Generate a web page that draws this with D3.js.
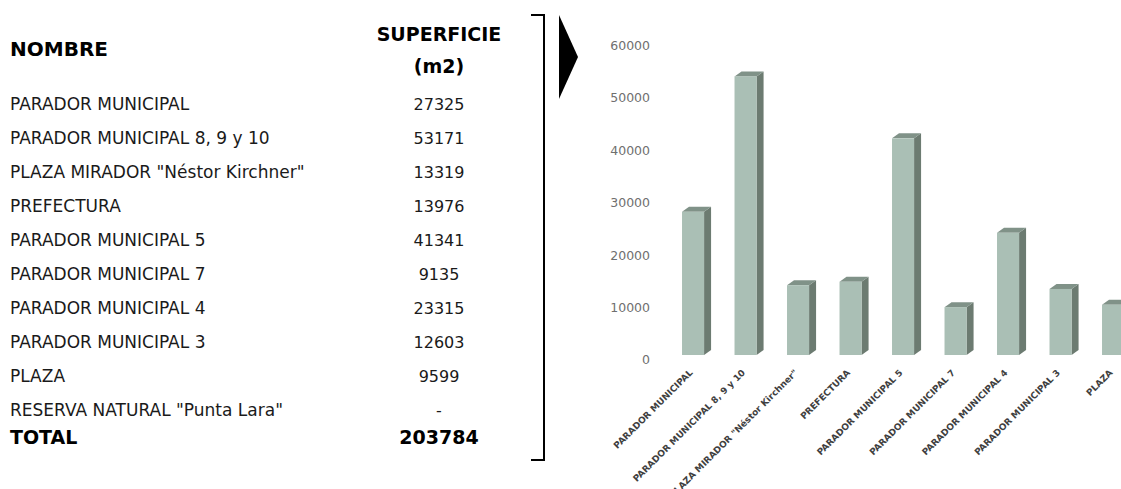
<!DOCTYPE html>
<html>
<head>
<meta charset="utf-8">
<script src="https://cdn.jsdelivr.net/npm/d3@7"></script>
<style>
  html, body { margin: 0; padding: 0; background: #fff; }
  svg { display: block; }
</style>
</head>
<body>
<svg id="chart" width="1121" height="489"></svg>
<script>
// ---- data ----
const tableNames = [
  "PARADOR MUNICIPAL",
  "PARADOR MUNICIPAL 8, 9 y 10",
  "PLAZA MIRADOR \"Néstor Kirchner\"",
  "PREFECTURA",
  "PARADOR MUNICIPAL 5",
  "PARADOR MUNICIPAL 7",
  "PARADOR MUNICIPAL 4",
  "PARADOR MUNICIPAL 3",
  "PLAZA",
  "RESERVA NATURAL \"Punta Lara\""
];
const tableValues = [27325, 53171, 13319, 13976, 41341, 9135, 23315, 12603, 9599, null];
const headerName = "NOMBRE";
const headerArea = ["SUPERFICIE", "(m2)"];
const totalLabel = "TOTAL";

const categories = [
  "PARADOR MUNICIPAL",
  "PARADOR MUNICIPAL 8, 9 y 10",
  "PLAZA MIRADOR \"Néstor Kirchner\"",
  "PREFECTURA",
  "PARADOR MUNICIPAL 5",
  "PARADOR MUNICIPAL 7",
  "PARADOR MUNICIPAL 4",
  "PARADOR MUNICIPAL 3",
  "PLAZA"
];
const areas = [27325, 53171, 13319, 13976, 41341, 9135, 23315, 12603, 9599];
const yTicks = [0, 10000, 20000, 30000, 40000, 50000, 60000];

// ---- drawing ----
const svg = d3.select("#chart");
const FONT = "'DejaVu Sans', sans-serif";

// Table
const tbl = svg.append("g").attr("font-family", FONT);
const valueX = 439;
tbl.append("text").attr("x", 10).attr("y", 56)
  .attr("font-size", 20).attr("font-weight", "bold").attr("fill", "#000")
  .text(headerName);
tbl.selectAll("text.hdr").data(headerArea).join("text")
  .attr("class", "hdr")
  .attr("x", valueX).attr("y", (d, i) => 41 + i * 32)
  .attr("text-anchor", "middle")
  .attr("font-size", 19).attr("font-weight", "bold").attr("fill", "#000")
  .text(d => d);

const rowY = d3.scaleLinear().domain([0, 1]).range([110, 144]);
tbl.selectAll("text.nm").data(tableNames).join("text")
  .attr("class", "nm")
  .attr("x", 10).attr("y", (d, i) => rowY(i))
  .attr("font-size", 17).attr("fill", "#1a1a1a")
  .text(d => d);
tbl.selectAll("text.val").data(tableValues).join("text")
  .attr("class", "val")
  .attr("x", valueX).attr("y", (d, i) => rowY(i))
  .attr("text-anchor", "middle")
  .attr("font-size", 16).attr("fill", "#1a1a1a")
  .text(d => d == null ? "-" : d);

tbl.append("text").attr("x", 10).attr("y", 444)
  .attr("font-size", 19).attr("font-weight", "bold").attr("fill", "#000")
  .text(totalLabel);
tbl.append("text").attr("x", valueX).attr("y", 444)
  .attr("text-anchor", "middle")
  .attr("font-size", 19).attr("font-weight", "bold").attr("fill", "#000")
  .text(d3.sum(tableValues.filter(v => v != null)));

// Bracket and arrow
svg.append("path")
  .attr("d", "M531,15H544V460H531")
  .attr("fill", "none").attr("stroke", "#000").attr("stroke-width", 2);
svg.append("path")
  .attr("d", "M559,15L578,57L559,99Z")
  .attr("fill", "#000");

// Bar chart
const y = d3.scaleLinear().domain([0, 60000]).range([355, 40.6]);
const x = d3.scaleBand().domain(categories).range([666.8, 1139.3])
  .paddingInner(0.58).paddingOuter(0.29);
const dx = 7, dy = 5;

const yAxis = svg.append("g").attr("font-family", FONT);
yAxis.selectAll("text").data(yTicks).join("text")
  .attr("x", 650).attr("y", d => y(d) + dy)
  .attr("dy", "0.35em")
  .attr("text-anchor", "end")
  .attr("font-size", 12.5).attr("fill", "#6f6f6f")
  .text(d => d);

const bars = svg.append("g").selectAll("g").data(categories).join("g");
bars.append("polygon")
  .attr("points", (d, i) => {
    const x0 = x(d), w = x.bandwidth(), yt = y(areas[i]), yb = y(0);
    return [[x0 + w, yt], [x0 + w + dx, yt - dy], [x0 + w + dx, yb - dy], [x0 + w, yb]].join(" ");
  })
  .attr("fill", "#6c7b71");
bars.append("polygon")
  .attr("points", (d, i) => {
    const x0 = x(d), w = x.bandwidth(), yt = y(areas[i]);
    return [[x0, yt], [x0 + dx, yt - dy], [x0 + w + dx, yt - dy], [x0 + w, yt]].join(" ");
  })
  .attr("fill", "#809288");
bars.append("rect")
  .attr("x", d => x(d))
  .attr("y", (d, i) => y(areas[i]))
  .attr("width", x.bandwidth())
  .attr("height", (d, i) => y(0) - y(areas[i]))
  .attr("fill", "#aabfb5");

const xLabels = svg.append("g").attr("font-family", FONT);
xLabels.selectAll("text").data(categories).join("text")
  .attr("transform", d => `translate(${x(d) + x.bandwidth() / 2 - 2},${371}) rotate(-45)`)
  .attr("text-anchor", "end")
  .attr("dy", "0.35em")
  .attr("font-size", 9).attr("font-weight", "bold").attr("fill", "#3f3f3f")
  .text(d => d);
</script>
</body>
</html>
